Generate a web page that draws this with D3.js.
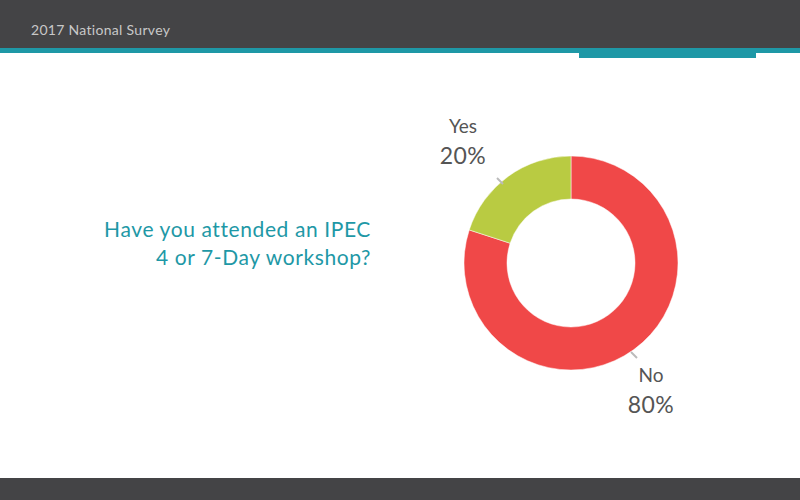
<!DOCTYPE html>
<html><head><meta charset="utf-8">
<script src="https://cdn.jsdelivr.net/npm/d3@7"></script>
<style>body{margin:0;background:#fff}svg{display:block}</style>
</head><body>
<svg width="800" height="500"></svg>
<script>
const categories = ["No", "Yes"];
const values = [80, 20];
const colors = ["#F04848", "#B9CB42"];
const title = "2017 National Survey";
const question = ["Have you attended an IPEC", "4 or 7-Day workshop?"];

const svg = d3.select("svg");
const font = "Lato, 'Open Sans', sans-serif";
svg.append("rect").attr("width",800).attr("height",48).attr("fill","#444446");
svg.append("rect").attr("y",48).attr("width",800).attr("height",5).attr("fill","#1E98A6");
svg.append("rect").attr("x",579).attr("y",53).attr("width",177).attr("height",5).attr("fill","#1E98A6");
svg.append("rect").attr("y",478).attr("width",800).attr("height",22).attr("fill","#444446");
svg.append("text").attr("x",31).attr("y",35).attr("fill","#c8c8c8").attr("font-family",font).attr("font-size",14).attr("letter-spacing",0.3).text(title);

svg.selectAll(".q").data(question).enter().append("text")
  .attr("x",371).attr("y",(d,i)=>237+i*28).attr("text-anchor","end")
  .attr("fill","#1E98A6").attr("font-family",font).attr("font-size",21).attr("letter-spacing",0.6).text(d=>d);

const cx=571, cy=263, ro=107, ri=64;
const g = svg.append("g").attr("transform",`translate(${cx},${cy})`);
const pie = d3.pie().sort(null).value(d=>d)(values);
const arc = d3.arc().innerRadius(ri).outerRadius(ro);
g.selectAll("path").data(pie).enter().append("path").attr("d",arc)
  .attr("fill",(d,i)=>colors[i]).attr("stroke","#fff").attr("stroke-width",0.5);

const labelPos = [{x:651,y:382,lx:[631,637],ly:[352,358]},{x:463,y:133,lx:[497,503],ly:[178,184]}];
pie.forEach((d,i)=>{
  const p = labelPos[i];
  svg.append("line").attr("x1",p.lx[0]).attr("x2",p.lx[1]).attr("y1",p.ly[0]).attr("y2",p.ly[1]).attr("stroke","#bbb").attr("stroke-width",2);
  svg.append("text").attr("x",p.x).attr("y",p.y).attr("text-anchor","middle").attr("fill","#555").attr("font-family",font).attr("font-size",19).text(categories[i]);
  svg.append("text").attr("x",p.x).attr("y",p.y+31).attr("text-anchor","middle").attr("fill","#555").attr("font-family",font).attr("font-size",23).attr("letter-spacing",0.5).text(values[i]+"%");
});
</script>
</body></html>
